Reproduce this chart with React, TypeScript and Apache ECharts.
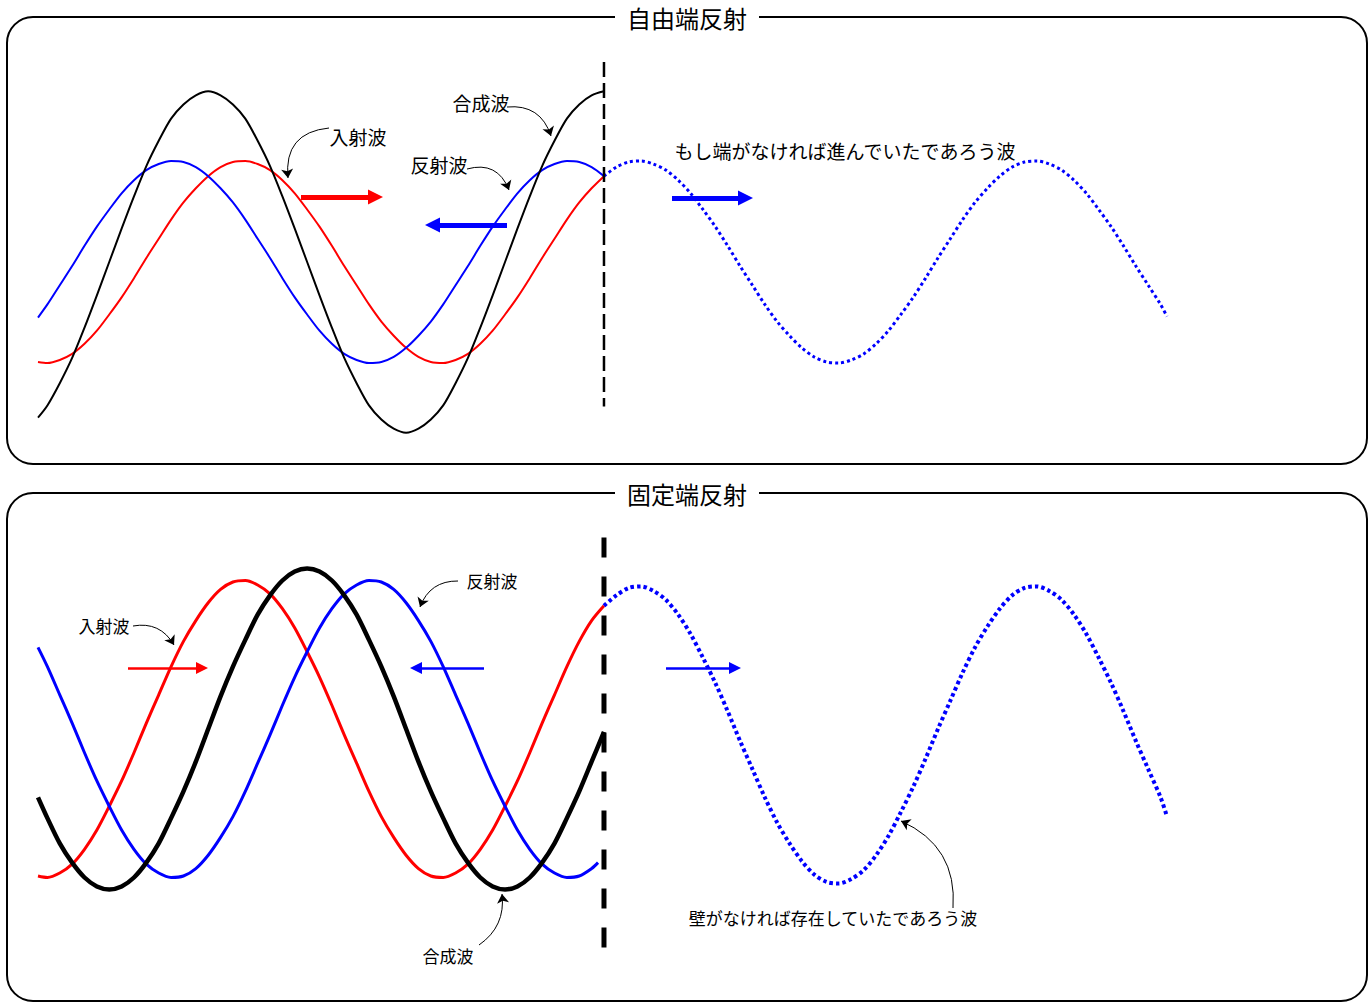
import React, { useEffect, useRef } from "react";
import * as echarts from "echarts";

// ---- positions along the string (1 unit = a quarter wavelength, wall at 0) ----
const xIncidentSide = [-5.72, -5.625, -5.5, -5.375, -5.25, -5.125, -5, -4.875, -4.75, -4.625, -4.5, -4.375, -4.25, -4.125, -4, -3.875, -3.75, -3.625, -3.5, -3.375, -3.25, -3.125, -3, -2.875, -2.75, -2.625, -2.5, -2.375, -2.25, -2.125, -2, -1.875, -1.75, -1.625, -1.5, -1.375, -1.25, -1.125, -1, -0.875, -0.75, -0.625, -0.5, -0.375, -0.25, -0.125, 0];
const xFixedReflected = [-5.72, -5.625, -5.5, -5.375, -5.25, -5.125, -5, -4.875, -4.75, -4.625, -4.5, -4.375, -4.25, -4.125, -4, -3.875, -3.75, -3.625, -3.5, -3.375, -3.25, -3.125, -3, -2.875, -2.75, -2.625, -2.5, -2.375, -2.25, -2.125, -2, -1.875, -1.75, -1.625, -1.5, -1.375, -1.25, -1.125, -1, -0.875, -0.75, -0.625, -0.5, -0.375, -0.25, -0.125, -0.06];
const xBeyondWall = [0, 0.125, 0.25, 0.375, 0.5, 0.625, 0.75, 0.875, 1, 1.125, 1.25, 1.375, 1.5, 1.625, 1.75, 1.875, 2, 2.125, 2.25, 2.375, 2.5, 2.625, 2.75, 2.875, 3, 3.125, 3.25, 3.375, 3.5, 3.625, 3.75, 3.875, 4, 4.125, 4.25, 4.375, 4.5, 4.625, 4.75, 4.875, 5, 5.125, 5.25, 5.375, 5.5, 5.625, 5.69];

// ---- 自由端反射 (free end) displacements ----
const freeIncident = [-0.99, -1.0, -0.97, -0.91, -0.81, -0.68, -0.52, -0.35, -0.16, 0.04, 0.23, 0.42, 0.59, 0.73, 0.85, 0.94, 0.99, 1.0, 0.97, 0.91, 0.81, 0.68, 0.52, 0.35, 0.16, -0.04, -0.23, -0.42, -0.59, -0.73, -0.85, -0.94, -0.99, -1.0, -0.97, -0.91, -0.81, -0.68, -0.52, -0.35, -0.16, 0.04, 0.23, 0.42, 0.59, 0.73, 0.85];
const freeReflected = [-0.55, -0.42, -0.23, -0.04, 0.16, 0.35, 0.52, 0.68, 0.81, 0.91, 0.97, 1.0, 0.99, 0.94, 0.85, 0.73, 0.59, 0.42, 0.23, 0.04, -0.16, -0.35, -0.52, -0.68, -0.81, -0.91, -0.97, -1.0, -0.99, -0.94, -0.85, -0.73, -0.59, -0.42, -0.23, -0.04, 0.16, 0.35, 0.52, 0.68, 0.81, 0.91, 0.97, 1.0, 0.99, 0.94, 0.85];
const freeComposite = [-1.54, -1.42, -1.2, -0.95, -0.65, -0.33, 0, 0.33, 0.65, 0.95, 1.2, 1.42, 1.56, 1.65, 1.69, 1.65, 1.56, 1.42, 1.2, 0.95, 0.65, 0.33, 0, -0.33, -0.65, -0.95, -1.2, -1.42, -1.56, -1.65, -1.69, -1.65, -1.56, -1.42, -1.2, -0.95, -0.65, -0.33, 0, 0.33, 0.65, 0.95, 1.2, 1.42, 1.56, 1.65, 1.69];
const freeWithoutEnd = [0.85, 0.94, 0.99, 1.0, 0.97, 0.91, 0.81, 0.68, 0.52, 0.35, 0.16, -0.04, -0.23, -0.42, -0.59, -0.73, -0.85, -0.94, -0.99, -1.0, -0.97, -0.91, -0.81, -0.68, -0.52, -0.35, -0.16, 0.04, 0.23, 0.42, 0.59, 0.73, 0.85, 0.94, 0.99, 1.0, 0.97, 0.91, 0.81, 0.68, 0.52, 0.35, 0.16, -0.04, -0.23, -0.42, -0.54];
const freeWallSpan = [1.98, -1.43];

// ---- 固定端反射 (fixed end) displacements ----
const fixedIncident = [-0.99, -1.0, -0.97, -0.91, -0.81, -0.68, -0.52, -0.35, -0.16, 0.04, 0.23, 0.42, 0.59, 0.73, 0.85, 0.94, 0.99, 1.0, 0.97, 0.91, 0.81, 0.68, 0.52, 0.35, 0.16, -0.04, -0.23, -0.42, -0.59, -0.73, -0.85, -0.94, -0.99, -1.0, -0.97, -0.91, -0.81, -0.68, -0.52, -0.35, -0.16, 0.04, 0.23, 0.42, 0.59, 0.73, 0.83];
const fixedReflected = [0.55, 0.42, 0.23, 0.04, -0.16, -0.35, -0.52, -0.68, -0.81, -0.91, -0.97, -1.0, -0.99, -0.94, -0.85, -0.73, -0.59, -0.42, -0.23, -0.04, 0.16, 0.35, 0.52, 0.68, 0.81, 0.91, 0.97, 1.0, 0.99, 0.94, 0.85, 0.73, 0.59, 0.42, 0.23, 0.04, -0.16, -0.35, -0.52, -0.68, -0.81, -0.91, -0.97, -1.0, -0.99, -0.94, -0.9];
const fixedComposite = [-0.46, -0.6, -0.77, -0.9, -1.0, -1.06, -1.08, -1.06, -1.0, -0.9, -0.77, -0.6, -0.42, -0.22, 0, 0.22, 0.42, 0.6, 0.77, 0.9, 1.0, 1.06, 1.08, 1.06, 1.0, 0.9, 0.77, 0.6, 0.42, 0.22, 0, -0.22, -0.42, -0.6, -0.77, -0.9, -1.0, -1.06, -1.08, -1.06, -1.0, -0.9, -0.77, -0.6, -0.42, -0.22, -0.02];
const fixedWithoutWall = [0.83, 0.9, 0.95, 0.96, 0.93, 0.87, 0.77, 0.64, 0.48, 0.31, 0.12, -0.08, -0.27, -0.46, -0.63, -0.77, -0.89, -0.98, -1.03, -1.04, -1.01, -0.95, -0.85, -0.72, -0.56, -0.39, -0.2, 0, 0.19, 0.38, 0.55, 0.69, 0.81, 0.9, 0.95, 0.96, 0.93, 0.87, 0.77, 0.64, 0.48, 0.31, 0.12, -0.08, -0.27, -0.46, -0.59];
const fixedWallSpan = [1.29, -1.54];

// ---- texts ----
const panelTitles = ["自由端反射", "固定端反射"];
const freeLabels = ["入射波", "合成波", "反射波", "もし端がなければ進んでいたであろう波"];
const fixedLabels = ["入射波", "反射波", "合成波", "壁がなければ存在していたであろう波"];

const FONT = '"Noto Sans CJK JP", "Noto Sans CJK SC", sans-serif';
const RED = "#ff0000";
const BLUE = "#0000ff";
const BLACK = "#000000";

const pairs = (xs: number[], ys: number[]) => xs.map((x, i) => [x, ys[i]]);

const waveSeries = (
  grid: number,
  xs: number[],
  ys: number[],
  color: string,
  width: number,
  type: any = "solid",
  z = 3
) => ({
  type: "line",
  xAxisIndex: grid,
  yAxisIndex: grid,
  data: pairs(xs, ys),
  showSymbol: false,
  symbol: "none",
  smooth: 0.3,
  clip: false,
  silent: true,
  z,
  lineStyle: { color, width, type, cap: "butt", join: "round" },
});

const wallSeries = (grid: number, span: number[], width: number, dash: number[]) => ({
  type: "line",
  xAxisIndex: grid,
  yAxisIndex: grid,
  data: [
    [0, span[0]],
    [0, span[1]],
  ],
  showSymbol: false,
  symbol: "none",
  clip: false,
  silent: true,
  z: 4,
  lineStyle: { color: BLACK, width, type: dash, cap: "butt" },
});

const arrowSeries = (
  color: string,
  width: number,
  symbol: string,
  size: any,
  items: { coords: number[][]; curveness?: number }[]
) => ({
  type: "lines",
  coordinateSystem: "cartesian2d",
  xAxisIndex: 2,
  yAxisIndex: 2,
  symbol: ["none", symbol],
  symbolSize: size,
  silent: true,
  z: 6,
  lineStyle: { color, width, opacity: 1, curveness: 0 },
  data: items.map((it) => ({
    coords: it.coords,
    lineStyle: { color, width, opacity: 1, curveness: it.curveness || 0 },
  })),
});

const label = (text: string, x: number, y: number, size: number) => ({
  type: "text",
  x,
  y,
  z: 10,
  style: {
    text,
    fill: BLACK,
    font: `${size}px ${FONT}`,
    align: "center",
    verticalAlign: "middle",
    textAlign: "center",
    textVerticalAlign: "middle",
  },
});

const title = (text: string, x: number, y: number) => ({
  type: "text",
  x,
  y,
  z: 10,
  style: {
    text,
    fill: BLACK,
    font: `24px ${FONT}`,
    align: "center",
    verticalAlign: "middle",
    textAlign: "center",
    textVerticalAlign: "middle",
    backgroundColor: "#ffffff",
    padding: [2, 12],
  },
});

const option: any = {
  animation: false,
  backgroundColor: "#ffffff",
  grid: [
    { left: 38, top: 60, width: 1129, height: 404 },
    { left: 38, top: 461.7, width: 1129, height: 534.6 },
    { left: 0, top: 0, width: 1369, height: 1003 },
  ],
  xAxis: [
    { type: "value", gridIndex: 0, min: -5.72, max: 5.69, show: false },
    { type: "value", gridIndex: 1, min: -5.72, max: 5.69, show: false },
    { type: "value", gridIndex: 2, min: 0, max: 1369, show: false },
  ],
  yAxis: [
    { type: "value", gridIndex: 0, min: -2, max: 2, show: false },
    { type: "value", gridIndex: 1, min: -1.8, max: 1.8, show: false },
    { type: "value", gridIndex: 2, min: 0, max: 1003, inverse: true, show: false },
  ],
  graphic: {
    elements: [
      {
        type: "rect",
        z: 1,
        shape: { x: 7, y: 17, width: 1360, height: 447, r: 26 },
        style: { fill: "none", stroke: BLACK, lineWidth: 2 },
      },
      {
        type: "rect",
        z: 1,
        shape: { x: 7, y: 493, width: 1360, height: 508, r: 26 },
        style: { fill: "none", stroke: BLACK, lineWidth: 2 },
      },
      title(panelTitles[0], 687, 17),
      title(panelTitles[1], 687, 493),
      label(freeLabels[0], 358, 136, 19),
      label(freeLabels[1], 481, 102, 19),
      label(freeLabels[2], 439, 164, 19),
      label(freeLabels[3], 845, 150, 19),
      label(fixedLabels[0], 104, 625, 17),
      label(fixedLabels[1], 492, 580, 17),
      label(fixedLabels[2], 448, 955, 17),
      label(fixedLabels[3], 833, 917, 17),
    ],
  },
  series: [
    // free end panel
    waveSeries(0, xIncidentSide, freeIncident, RED, 2),
    waveSeries(0, xIncidentSide, freeReflected, BLUE, 2),
    waveSeries(0, xIncidentSide, freeComposite, BLACK, 2),
    waveSeries(0, xBeyondWall, freeWithoutEnd, BLUE, 3, [3, 3]),
    wallSeries(0, freeWallSpan, 2.5, [15, 6]),
    // fixed end panel
    waveSeries(1, xIncidentSide, fixedIncident, RED, 3),
    waveSeries(1, xFixedReflected, fixedReflected, BLUE, 3),
    waveSeries(1, xIncidentSide, fixedComposite, BLACK, 4.5),
    waveSeries(1, xBeyondWall, fixedWithoutWall, BLUE, 4, [3.5, 3]),
    wallSeries(1, fixedWallSpan, 5, [20, 19]),
    // direction arrows
    arrowSeries(RED, 5, "triangle", [14, 15], [{ coords: [[301, 197], [375.5, 197]] }]),
    arrowSeries(BLUE, 5, "triangle", [14, 15], [
      { coords: [[507, 225], [432.5, 225]] },
      { coords: [[672, 198], [745.5, 198]] },
    ]),
    arrowSeries(RED, 2.5, "triangle", [10, 12], [{ coords: [[128, 668], [202, 668]] }]),
    arrowSeries(BLUE, 2.5, "triangle", [10, 12], [
      { coords: [[484, 668], [416, 668]] },
      { coords: [[666, 668], [735, 668]] },
    ]),
    // annotation leaders
    arrowSeries(BLACK, 1, "arrow", 9, [
      { coords: [[329, 128], [288, 178]], curveness: -0.5 },
      { coords: [[507, 107], [551, 136]], curveness: 0.4 },
      { coords: [[467, 169], [509, 190]], curveness: 0.45 },
      { coords: [[133, 626], [174, 645]], curveness: 0.35 },
      { coords: [[458, 581], [420, 607]], curveness: -0.35 },
      { coords: [[479, 945], [502, 894]], curveness: -0.3 },
      { coords: [[953, 908], [901, 821]], curveness: -0.35 },
    ]),
  ],
};

export default function App() {
  const ref = useRef<HTMLDivElement>(null);
  useEffect(() => {
    if (!ref.current) return;
    const chart = echarts.init(ref.current, null, { renderer: "svg" });
    chart.setOption(option);
    return () => chart.dispose();
  }, []);
  return (
    <div
      ref={ref}
      style={{
        position: "fixed",
        left: 0,
        top: 0,
        width: 1369,
        height: 1003,
        background: "#fff",
      }}
    />
  );
}
